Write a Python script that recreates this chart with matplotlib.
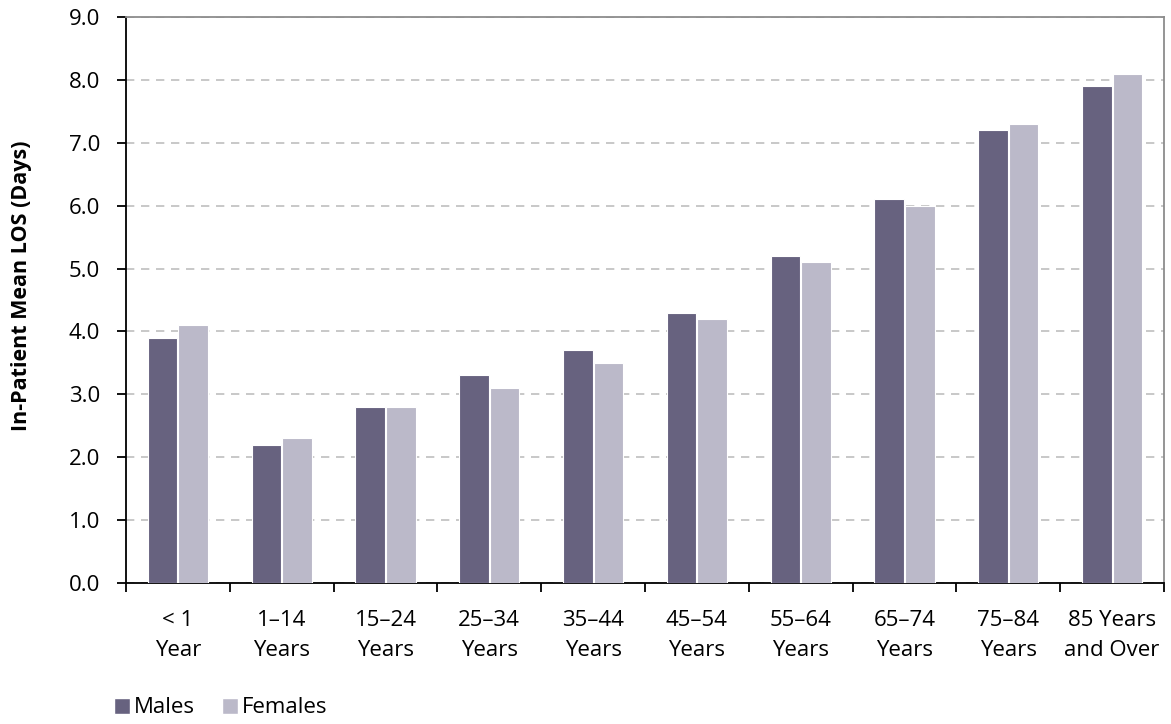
import matplotlib.pyplot as plt
import numpy as np
from matplotlib.patches import Patch

plt.rcParams['font.family'] = ['Open Sans', 'DejaVu Sans']

grupos = ['< 1\nYear', '1–14\nYears', '15–24\nYears', '25–34\nYears', '35–44\nYears',
          '45–54\nYears', '55–64\nYears', '65–74\nYears', '75–84\nYears', '85 Years\nand Over']
homens = [3.9, 2.2, 2.8, 3.3, 3.7, 4.3, 5.2, 6.1, 7.2, 7.9]
mulheres = [4.1, 2.3, 2.8, 3.1, 3.5, 4.2, 5.1, 6.0, 7.3, 8.1]

cor_h = '#67627f'
cor_m = '#bbb9c9'

fig = plt.figure(figsize=(11.71, 7.24), dpi=100)
ax = fig.add_axes([0.1076, 0.1948, 0.8864, 0.7817])

x = np.arange(len(grupos))
largura = 0.285
ax.bar(x - 0.147, homens, largura, color=cor_h, edgecolor='white', linewidth=0.8, zorder=3)
ax.bar(x + 0.147, mulheres, largura, color=cor_m, edgecolor='white', linewidth=0.8, zorder=3)

ax.set_xlim(-0.5, len(grupos) - 0.5)
ax.set_ylim(0, 9)
ax.set_yticks(np.arange(0, 9.5, 1.0))
ax.set_yticklabels([f'{v:.1f}' for v in np.arange(0, 9.5, 1.0)])
ax.yaxis.grid(True, linestyle=(0, (5, 4)), color='#bfbfbf', linewidth=1.2, zorder=0)

ax.set_xticks(x)
ax.set_xticklabels(grupos, linespacing=1.55)
ax.set_xticks(np.arange(-0.5, len(grupos), 1.0), minor=True)
ax.tick_params(axis='x', which='major', length=0, pad=19.5, labelsize=16, colors='black')
ax.tick_params(axis='x', which='minor', length=6.5, width=1.3, direction='out')
ax.tick_params(axis='y', length=6.5, width=1.3, direction='out', labelsize=16, pad=12)

for lado in ['left', 'bottom']:
    ax.spines[lado].set_color('black')
    ax.spines[lado].set_linewidth(1.3)
for lado in ['top', 'right']:
    ax.spines[lado].set_color('#8c8c8c')
    ax.spines[lado].set_linewidth(1.3)

ax.set_ylabel('In-Patient Mean LOS (Days)', fontsize=15.5, fontweight='bold')
ax.yaxis.set_label_coords(-0.0906, 0.525)

handles = [Patch(facecolor=cor_h, edgecolor='white'), Patch(facecolor=cor_m, edgecolor='white')]
fig.legend(handles, ['Males', 'Females'], loc='lower left', bbox_to_anchor=(0.08, -0.02),
           ncol=2, frameon=False, fontsize=16, handlelength=0.72, handleheight=0.72,
           handletextpad=0.2, columnspacing=1.2)

fig.savefig('out.png', dpi=100)
